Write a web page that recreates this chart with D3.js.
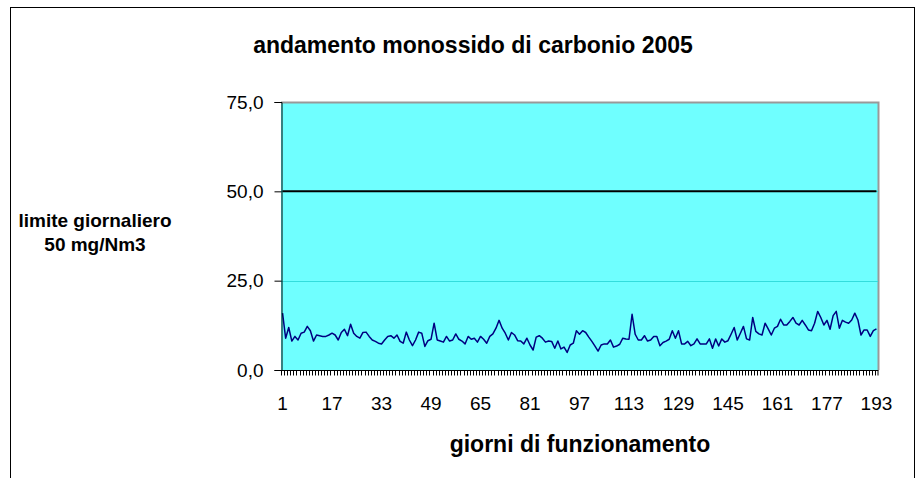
<!DOCTYPE html>
<html>
<head>
<meta charset="utf-8">
<script src="https://d3js.org/d3.v7.min.js"></script>
<style>
body { margin: 0; background: #fff; }
svg { display: block; font-family: Arial, "Liberation Sans", sans-serif; }
</style>
</head>
<body>
<svg width="920" height="478"></svg>
<script>
// daily CO averages (mg/Nm3)
var days = d3.range(1, 194);
var co = [
  15.9, 8.9, 11.9, 8.1, 9.4, 8.4, 10.3, 10.6, 12.2, 11.0,
  8.1, 9.8, 9.6, 9.4, 9.4, 9.8, 10.3, 9.8, 8.4, 10.5,
  11.4, 9.6, 12.8, 10.3, 9.4, 8.9, 10.5, 10.6, 9.4, 8.4,
  8.0, 7.5, 7.3, 8.4, 9.4, 9.6, 8.9, 9.8, 8.0, 7.5,
  10.6, 8.4, 6.8, 8.4, 10.6, 10.3, 6.6, 8.2, 8.6, 13.1,
  8.4, 8.1, 7.8, 9.4, 8.1, 8.4, 10.1, 8.6, 8.1, 7.3,
  9.4, 8.6, 8.9, 7.8, 9.4, 8.6, 7.5, 9.4, 10.1, 11.7,
  13.9, 11.7, 10.3, 8.4, 10.5, 9.8, 8.2, 8.1, 7.3, 8.9,
  7.0, 5.6, 9.2, 9.6, 8.9, 7.8, 8.1, 8.0, 6.1, 8.1,
  5.9, 6.4, 4.9, 7.0, 7.5, 11.0, 10.0, 11.0,
  10.5, 9.2, 8.0, 6.7, 5.3, 7.0, 7.3, 7.3, 8.4, 6.4,
  6.7, 7.2, 8.9, 8.7, 8.6, 15.6, 10.0, 8.4, 8.4, 9.6,
  8.1, 8.4, 9.4, 9.4, 6.8, 7.7, 8.1, 8.6, 11.0, 8.9,
  11.0, 7.3, 7.3, 8.0, 6.8, 7.3, 8.7, 7.3, 7.3, 7.3,
  8.7, 6.1, 8.7, 6.7, 8.7, 7.8, 8.2, 10.0, 11.9,
  8.4, 10.3, 12.2, 8.7, 8.4, 14.7, 10.8, 10.1, 9.8, 13.1,
  11.5, 9.8, 11.7, 12.2, 14.2, 12.6, 12.6, 13.6, 14.7, 13.1,
  12.6, 13.9, 12.6, 11.2, 11.0, 13.1, 16.4, 14.7, 12.6, 13.9,
  11.4, 15.2, 16.4, 11.7, 13.9, 13.4, 13.1, 14.0, 15.9, 14.0,
  9.8, 11.2, 11.2, 9.4, 11.0, 11.5
];
var limit = 50;
var yTicks = [0, 25, 50, 75];
var xLabels = [1, 17, 33, 49, 65, 81, 97, 113, 129, 145, 161, 177, 193];

var svg = d3.select('svg');
var plotLeft = 281, plotRight = 878, plotTop = 102, plotBottom = 370;
var font = 'Arial, "Liberation Sans", sans-serif';

// outer chart frame
svg.append('rect')
  .attr('x', 10.5).attr('y', 7.5)
  .attr('width', 904).attr('height', 500)
  .attr('fill', 'none').attr('stroke', '#000');

var x = d3.scaleBand().domain(days).range([plotLeft, plotRight]);
var y = d3.scaleLinear().domain([0, 75]).range([plotBottom, plotTop]);
var cx = function (d) { return x(d) + x.bandwidth() / 2; };

// plot area
svg.append('rect')
  .attr('x', plotLeft).attr('y', plotTop)
  .attr('width', plotRight - plotLeft).attr('height', plotBottom - plotTop)
  .attr('fill', '#6fffff');
svg.append('path')
  .attr('d', 'M' + plotLeft + ',' + (plotTop + 0.5) + 'H' + (plotRight + 0.5) + 'V' + plotBottom)
  .attr('fill', 'none').attr('stroke', '#999').attr('stroke-width', 2);

// gridlines
svg.append('g').selectAll('line')
  .data([25, 50]).enter().append('line')
  .attr('x1', plotLeft).attr('x2', plotRight)
  .attr('y1', function (d) { return Math.round(y(d)) + 0.5; })
  .attr('y2', function (d) { return Math.round(y(d)) + 0.5; })
  .attr('stroke', '#33dddd');

// daily limit
svg.append('line')
  .attr('x1', cx(days[0])).attr('x2', cx(days[days.length - 1]))
  .attr('y1', y(limit)).attr('y2', y(limit))
  .attr('stroke', '#000').attr('stroke-width', 2);

// CO series
var line = d3.line()
  .x(function (d, i) { return cx(days[i]); })
  .y(function (d) { return y(d); });
svg.append('path')
  .datum(co)
  .attr('d', line)
  .attr('fill', 'none')
  .attr('stroke', '#000080')
  .attr('stroke-width', 1.5)
  .attr('stroke-linejoin', 'round');

// y axis
var yAxis = d3.axisLeft(y)
  .tickValues(yTicks)
  .tickSize(7)
  .tickPadding(11)
  .tickFormat(function (d) { return d3.format('.1f')(d).replace('.', ','); });
var gy = svg.append('g').attr('transform', 'translate(' + (plotLeft + 0.5) + ',0)').call(yAxis);
gy.select('.domain').attr('stroke', '#000');
gy.selectAll('text').attr('font-size', 19).attr('fill', '#000').attr('font-family', font);

// x axis: small ticks between days, labels every 16 days
var gx = svg.append('g').attr('transform', 'translate(0,' + (plotBottom + 0.5) + ')');
gx.append('line').attr('x1', plotLeft).attr('x2', plotRight + 0.5).attr('stroke', '#000');
gx.selectAll('line.tk')
  .data(days.concat([null])).enter().append('line')
  .attr('class', 'tk')
  .attr('x1', function (d) { return d === null ? plotRight : Math.round(x(d)) + 0.5; })
  .attr('x2', function (d) { return d === null ? plotRight : Math.round(x(d)) + 0.5; })
  .attr('y1', 0).attr('y2', 5)
  .attr('stroke', '#000');
var xAxis = d3.axisBottom(x).tickValues(xLabels).tickSize(0).tickPadding(27);
var gl = svg.append('g').attr('transform', 'translate(0,' + plotBottom + ')').call(xAxis);
gl.select('.domain').remove();
gl.selectAll('text').attr('font-size', 19).attr('fill', '#000').attr('font-family', font);

// titles
svg.append('text')
  .attr('x', 473).attr('y', 53)
  .attr('text-anchor', 'middle')
  .attr('font-weight', 'bold').attr('font-size', 23)
  .text('andamento monossido di carbonio 2005');
svg.append('text')
  .attr('x', 580).attr('y', 452)
  .attr('text-anchor', 'middle')
  .attr('font-weight', 'bold').attr('font-size', 23)
  .text('giorni di funzionamento');
svg.append('text')
  .attr('x', 95).attr('y', 227)
  .attr('text-anchor', 'middle')
  .attr('font-weight', 'bold').attr('font-size', 19)
  .text('limite giornaliero');
svg.append('text')
  .attr('x', 95).attr('y', 251)
  .attr('text-anchor', 'middle')
  .attr('font-weight', 'bold').attr('font-size', 19)
  .text('50 mg/Nm3');
</script>
</body>
</html>
